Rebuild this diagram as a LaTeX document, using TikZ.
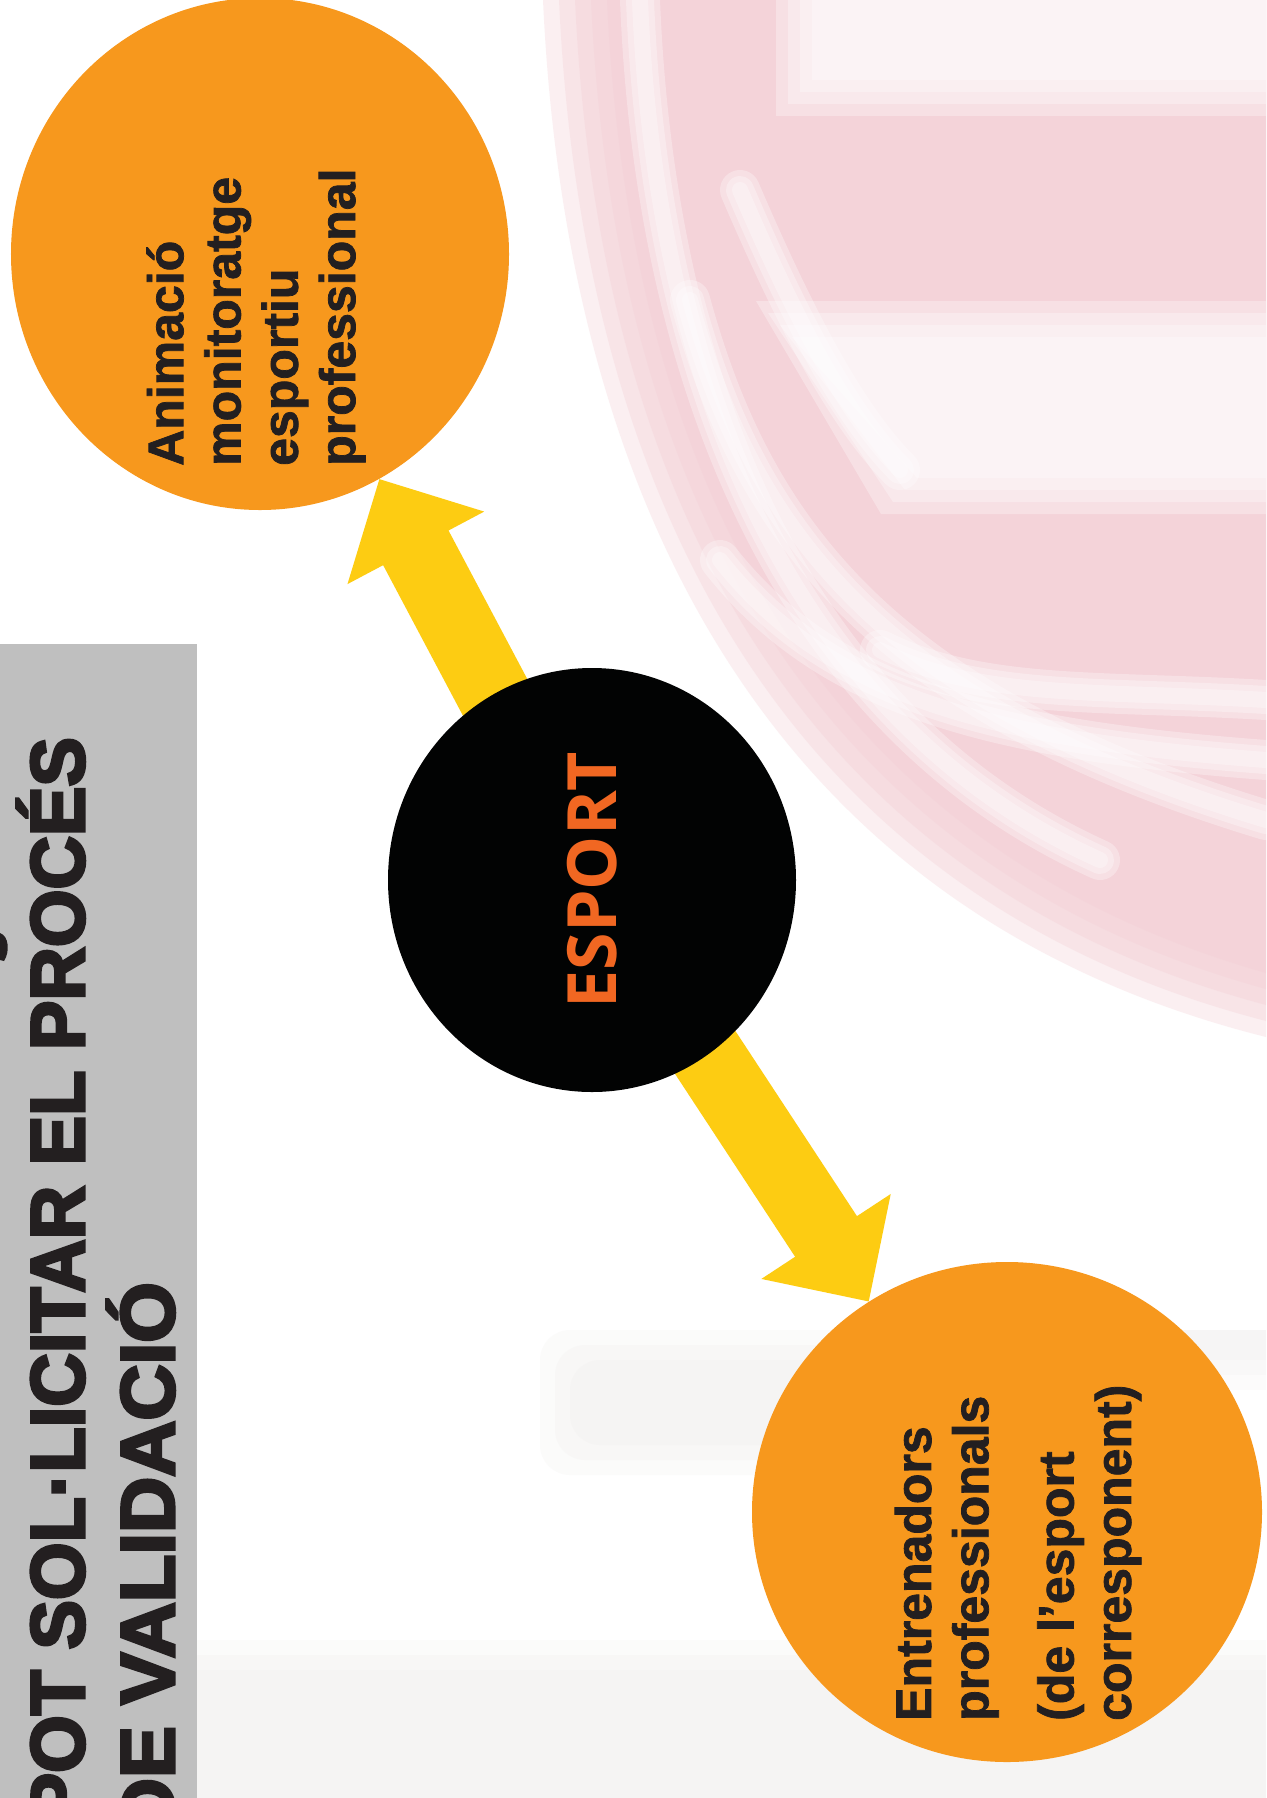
\documentclass[tikz,border=0pt]{standalone}
\usepackage{fontspec}
\setmainfont{Liberation Sans}[BoldFeatures={FakeBold=1.5}]
\newfontfamily\esportfont{Open Sans}
\newfontfamily\titlefont{Liberation Sans}[BoldFeatures={FakeBold=4}]
\usepackage{graphicx}
\usetikzlibrary{arrows.meta,shapes.geometric,backgrounds}
\definecolor{orangec}{RGB}{247,152,29}
\definecolor{yellowc}{RGB}{253,204,18}
\definecolor{blackc}{RGB}{2,3,3}
\definecolor{darktext}{RGB}{35,31,32}
\definecolor{esportc}{RGB}{241,103,34}
\definecolor{graybar}{RGB}{191,191,191}
\definecolor{pinkbg}{RGB}{243,204,211}
\definecolor{fogc}{RGB}{232,230,228}
\begin{document}
\begin{tikzpicture}[x=1bp,y=-1bp,
  orangecirc/.style={ellipse,fill=orangec,inner sep=0pt,draw=none},
  blackcirc/.style={ellipse,fill=blackc,inner sep=0pt,draw=none,text=esportc},
  cirtext/.style={rotate=90,align=left,inner sep=0pt,text=darktext,
    font=\bfseries\fontsize{50bp}{57.3bp}\selectfont},
  titletext/.style={rotate=90,inner sep=0pt,text=darktext,
    font=\titlefont\bfseries\fontsize{76bp}{80bp}\selectfont},
  yarrow/.style={draw=yellowc,line width=74bp,
    -{Triangle[width=150bp,length=78bp]}},
  softwhite/.style={draw=white,line cap=round,opacity=0.3}]
\useasboundingbox (0,0) rectangle (1266,1798);

% nodes
\node[orangecirc,minimum width=498bp,minimum height=512bp] (top) at (260,254) {};
\node[orangecirc,minimum width=510bp,minimum height=500bp] (bottom) at (1007,1512) {};
\node[blackcirc,minimum width=408bp,minimum height=424bp] (esport) at (592,880)
  {\rotatebox{90}{\esportfont\bfseries\fontsize{68bp}{72bp}\selectfont ESPORT}};

\node[cirtext,anchor=west] (toptext) at (256,466)
  {Animació\\monitoratge\\esportiu\\professional};
\node[cirtext,anchor=west] (bottext) at (1018,1721)
  {Entrenadors\\professionals\\[28bp](de l’esport\\corresponent)};

\node[titletext,anchor=base east] (title1) at (84,737)
  {\resizebox{1085bp}{\height}{POT SOL·LICITAR EL PROCÉS}};
\node[titletext,anchor=base east] (title2) at (174,1282)
  {\resizebox{552bp}{\height}{DE VALIDACIÓ}};

\begin{scope}[on background layer]
  \fill[white] (0,0) rectangle (1266,1798);
  % blurred photo in the background
  \foreach \e in {-32,-16,0,16,32} {
    \fill[pinkbg,opacity=0.3] (575+\e,0) .. controls (595+\e,440) and (760+\e,870-\e) .. (1266,1005-\e) -- (1266,0) -- cycle;
  }
  \foreach \e in {-12,0,12,24} {
    \fill[white,opacity=0.3] (800-\e,0) rectangle (1266,92+\e);
    \fill[white,opacity=0.3] (780-\e,325-\e) -- (1266,325-\e) -- (1266,490+\e) -- (905-\e,490+\e) -- cycle;
  }
  \foreach \w in {40,28,16} {
    \draw[softwhite,line width=\w bp] (640,0) .. controls (655,380) and (790,720) .. (1100,860);
    \draw[softwhite,line width=\w bp] (690,300) .. controls (750,520) and (870,700) .. (1266,820);
    \draw[softwhite,line width=\w bp] (720,560) .. controls (830,700) and (1000,740) .. (1266,760);
    \draw[softwhite,line width=\w bp] (740,190) .. controls (800,330) and (850,420) .. (900,470);
    \draw[softwhite,line width=\w bp] (880,650) .. controls (980,700) and (1100,690) .. (1266,700);
  }
  \foreach \e in {0,15,30} {
    \fill[fogc,opacity=0.15,rounded corners=30bp] (540+\e,1330+\e) rectangle (1010-\e,1475-\e);
    \fill[fogc,opacity=0.15] (197,1640+\e) rectangle (1266,1798);
    \fill[fogc,opacity=0.12] (1140+\e,1330) rectangle (1266,1390-\e);
  }
  % title bar
  \fill[graybar] (0,644) rectangle (197,1798);
  \fill[darktext] (0,933) .. controls (9,936) and (10,952) .. (4,961) -- (0,960) -- cycle;
  % connectors
  \draw[yarrow] (esport.center) -- (top);
  \draw[yarrow] (esport.center) -- (bottom);
\end{scope}
\end{tikzpicture}
\end{document}
